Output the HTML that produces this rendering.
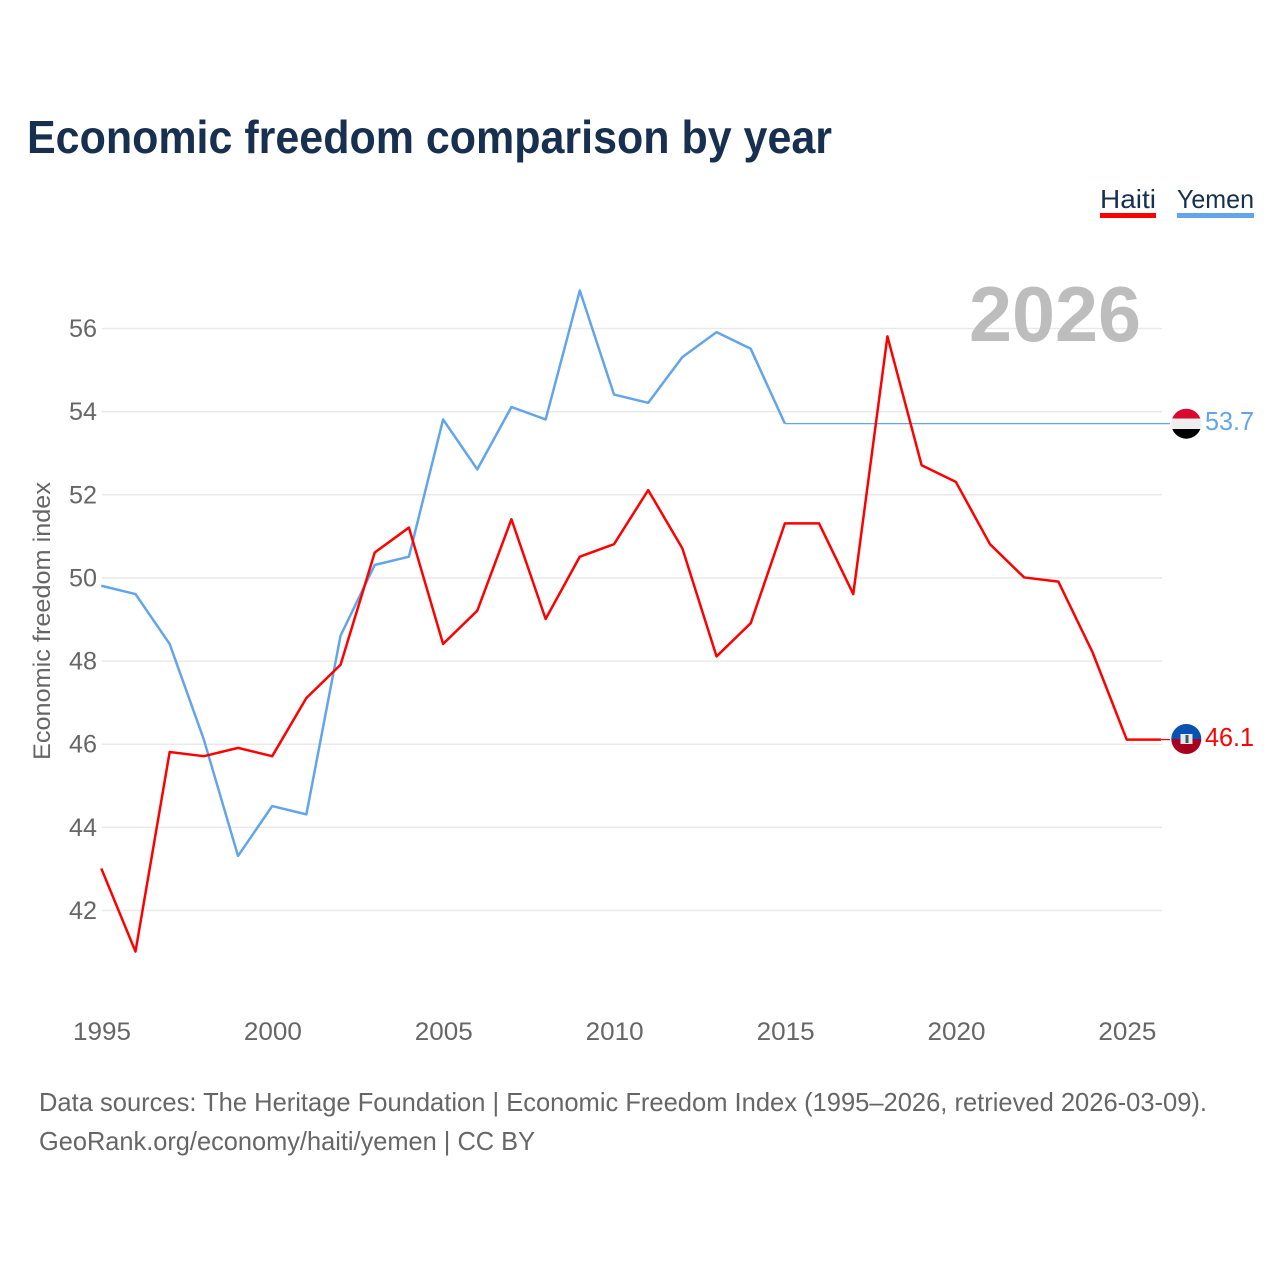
<!DOCTYPE html>
<html lang="en">
<head>
<meta charset="utf-8">
<title>Economic freedom comparison by year</title>
<style>
html,body{margin:0;padding:0;background:#fff}
svg{display:block}
text{font-family:"Liberation Sans",sans-serif}
</style>
</head>
<body>
<svg id="chart" width="1280" height="1280" viewBox="0 0 1280 1280" xmlns="http://www.w3.org/2000/svg">
  <defs>
    <clipPath id="clip-yemen"><circle cx="1186.3" cy="423.7" r="15"/></clipPath>
    <clipPath id="clip-haiti"><circle cx="1186.3" cy="739" r="15"/></clipPath>
  </defs>
  <rect width="1280" height="1280" fill="#fff"/>
  <text x="27" y="153" font-size="46" font-weight="700" fill="#18304f" textLength="805" lengthAdjust="spacingAndGlyphs">Economic freedom comparison by year</text>
  <g id="grid"></g>
  <text x="1141" y="341" text-anchor="end" font-size="78" font-weight="700" fill="#bdbdbd" textLength="172" lengthAdjust="spacingAndGlyphs">2026</text>
  <g id="marks"></g>
  <text transform="translate(50,621) rotate(-90)" text-anchor="middle" font-size="24" fill="#666" textLength="278" lengthAdjust="spacingAndGlyphs">Economic freedom index</text>

  <g>
    <text x="1100" y="208" font-size="26" fill="#18304f" textLength="56" lengthAdjust="spacingAndGlyphs">Haiti</text>
    <rect x="1100" y="213" width="56" height="5" fill="#ff0000"/>
  </g>
  <g>
    <text x="1177" y="208" font-size="26" fill="#18304f" textLength="77" lengthAdjust="spacingAndGlyphs">Yemen</text>
    <rect x="1177" y="213" width="77" height="5" fill="#62a5ea"/>
  </g>

  <g clip-path="url(#clip-yemen)">
    <rect x="1170" y="408" width="33" height="10.5" fill="#d8082e"/>
    <rect x="1170" y="418.5" width="33" height="10.5" fill="#eeeeee"/>
    <rect x="1170" y="429" width="33" height="11" fill="#000"/>
  </g>
  <text x="1205" y="430" font-size="26" fill="#62a5ea" textLength="49" lengthAdjust="spacingAndGlyphs">53.7</text>

  <g clip-path="url(#clip-haiti)">
    <rect x="1170" y="723" width="33" height="16" fill="#0a52b0"/>
    <rect x="1170" y="739" width="33" height="17" fill="#a8001f"/>
    <rect x="1180.5" y="734" width="12" height="10" fill="#e8e8e8"/>
    <rect x="1185.5" y="735" width="3" height="8" fill="#3a5a70"/>
  </g>
  <text x="1205" y="746" font-size="26" fill="#ff0000" textLength="49" lengthAdjust="spacingAndGlyphs">46.1</text>

  <text x="39" y="1111" font-size="26" fill="#666" textLength="1168" lengthAdjust="spacingAndGlyphs">Data sources: The Heritage Foundation | Economic Freedom Index (1995–2026, retrieved 2026-03-09).</text>
  <text x="39" y="1150" font-size="26" fill="#666" textLength="496" lengthAdjust="spacingAndGlyphs">GeoRank.org/economy/haiti/yemen | CC BY</text>
</svg>
<script>
const years = [1995,1996,1997,1998,1999,2000,2001,2002,2003,2004,2005,2006,2007,2008,2009,2010,2011,2012,2013,2014,2015,2016,2017,2018,2019,2020,2021,2022,2023,2024,2025,2026];
const haitiValues = [43,41,45.8,45.7,45.9,45.7,47.1,47.9,50.6,51.2,48.4,49.2,51.4,49,50.5,50.8,52.1,50.7,48.1,48.9,51.3,51.3,49.6,55.8,52.7,52.3,50.8,50,49.9,48.2,46.1,46.1];
const yemenValues = [49.8,49.6,48.4,46.1,43.3,44.5,44.3,48.6,50.3,50.5,53.8,52.6,54.1,53.8,56.9,54.4,54.2,55.3,55.9,55.5,53.7];
const yTicks = [42,44,46,48,50,52,54,56];
const xTicks = [1995,2000,2005,2010,2015,2020,2025];

const NS = 'http://www.w3.org/2000/svg';
const xScale = function (year) { return 101.3 + (year - 1995) * 34.18; };
const yScale = function (value) { return 910 - (value - 42) * 41.57; };
const grid = document.getElementById('grid');
const marks = document.getElementById('marks');

function make(tag, attrs, parent) {
  const el = document.createElementNS(NS, tag);
  for (const k in attrs) el.setAttribute(k, attrs[k]);
  parent.appendChild(el);
  return el;
}

yTicks.forEach(function (v) {
  const line = make('line', { x1: 102, x2: 1162, y1: yScale(v) + 0.5, y2: yScale(v) + 0.5, stroke: '#e9e9e9', 'stroke-width': 1.5 }, grid);
  
  
  const label = make('text', { x: 97, y: yScale(v) + 9, 'text-anchor': 'end', 'font-size': 25, fill: '#666', textLength: 28, lengthAdjust: 'spacingAndGlyphs' }, grid);
  label.textContent = v;
  
  
});

xTicks.forEach(function (y) {
  const label = make('text', { x: xScale(y) + 0.7, y: 1040, 'text-anchor': 'middle', 'font-size': 25, fill: '#666', textLength: 58, lengthAdjust: 'spacingAndGlyphs' }, grid);
  label.textContent = y;
  
  
});

function pathFor(values) {
  return values.map(function (v, i) { return xScale(years[i]) + ',' + yScale(v); }).join(' ');
}

const yemenLast = yemenValues[yemenValues.length - 1];
const yemenLastYear = years[yemenValues.length - 1];
const yemenConnY = Math.floor(yScale(yemenLast)) + 0.6;
const yemenConnector = make('line', { x1: xScale(yemenLastYear), x2: 1170, y1: yemenConnY, y2: yemenConnY, stroke: '#62a5ea', 'stroke-width': 1.2 }, marks);



const haitiLast = haitiValues[haitiValues.length - 1];
const haitiConnY = Math.floor(yScale(haitiLast)) + 0.6;
const haitiConnector = make('line', { x1: xScale(2026), x2: 1170, y1: haitiConnY, y2: haitiConnY, stroke: '#ff0000', 'stroke-width': 1.2 }, marks);



const yemenLine = make('polyline', { points: pathFor(yemenValues), fill: 'none', stroke: '#62a5ea', 'stroke-width': 2.5, 'stroke-linejoin': 'round' }, marks);



const haitiLine = make('polyline', { points: pathFor(haitiValues), fill: 'none', stroke: '#ff0000', 'stroke-width': 2.5, 'stroke-linejoin': 'round' }, marks);


</script>
</body>
</html>
